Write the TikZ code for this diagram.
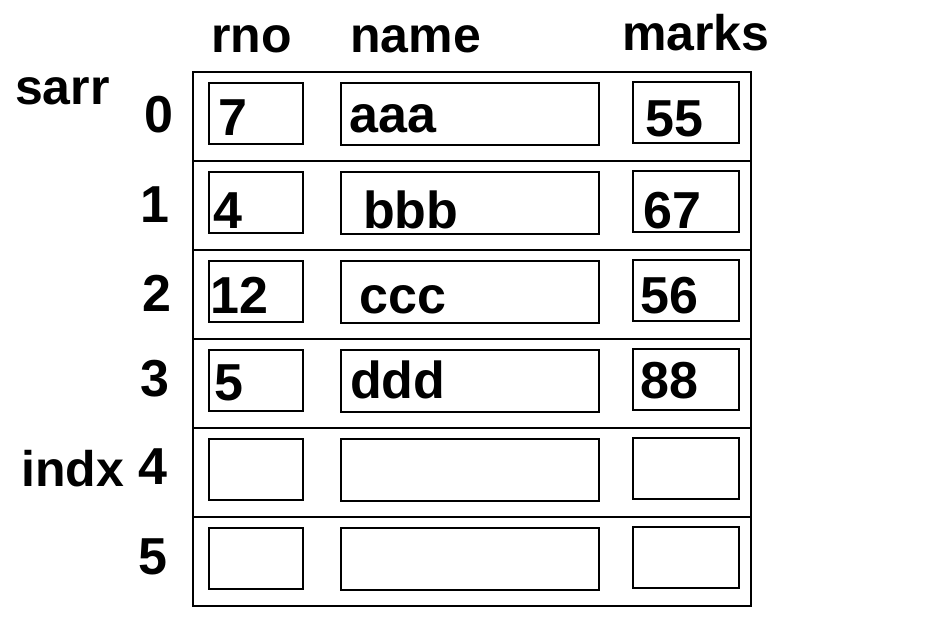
\documentclass[tikz,border=0pt]{standalone}
\usepackage{fontspec}
\setmainfont{Liberation Sans}
\begin{document}
\begin{tikzpicture}[x=1pt,y=-1pt,
  frame/.style={draw=black,line width=1.6pt},
  cellbox/.style={draw=black,line width=1.4pt},
  txt/.style={anchor=base west,inner sep=0pt,font=\fontsize{52}{60}\selectfont\bfseries},
  hdr/.style={anchor=base west,inner sep=0pt,font=\fontsize{50}{60}\selectfont\bfseries},
  idx/.style={anchor=base east,inner sep=0pt,font=\fontsize{52}{60}\selectfont\bfseries}]
\useasboundingbox[fill=white] (0,0) rectangle (941,621);
% outer frame and row separators
\draw[frame] (193,72) rectangle (751,606);
\foreach \r in {1,...,5} \draw[frame] (193,{72+89*\r}) -- (751,{72+89*\r});
% cell boxes
\foreach \r in {0,...,5}{
  \draw[cellbox] (209,{83+89*\r}) rectangle (303,{144+89*\r});
  \draw[cellbox] (341,{83+89*\r}) rectangle (599,{145+89*\r});
  \draw[cellbox] (633,{82+89*\r}) rectangle (739,{143+89*\r});
}
% headers
\node[hdr] (hrno) at (211,52) {rno};
\node[hdr] (hname) at (350,52) {name};
\node[hdr] (hmarks) at (622,50) {marks};
\node[hdr] (lsarr) at (15,104) {sarr};
\node[hdr] (lindx) at (21,486) {indx};
% index labels
\node[idx] (i0) at (174,132) {0};
\node[idx] (i1) at (170,222) {1};
\node[idx] (i2) at (172,311) {2};
\node[idx] (i3) at (170,396) {3};
\node[idx] (i4) at (168,484) {4};
\node[idx] (i5) at (168,574) {5};
% contents
\node[txt] (r0a) at (218,135) {7};
\node[txt] (r0b) at (349,132) {aaa};
\node[txt] (r0c) at (645,136) {55};
\node[txt] (r1a) at (213,228) {4};
\node[txt] (r1b) at (363,228) {bbb};
\node[txt] (r1c) at (643,228) {67};
\node[txt] (r2a) at (210,313) {12};
\node[txt] (r2b) at (359,313) {ccc};
\node[txt] (r2c) at (640,313) {56};
\node[txt] (r3a) at (214,400) {5};
\node[txt] (r3b) at (350,398) {ddd};
\node[txt] (r3c) at (640,398) {88};
\end{tikzpicture}
\end{document}
